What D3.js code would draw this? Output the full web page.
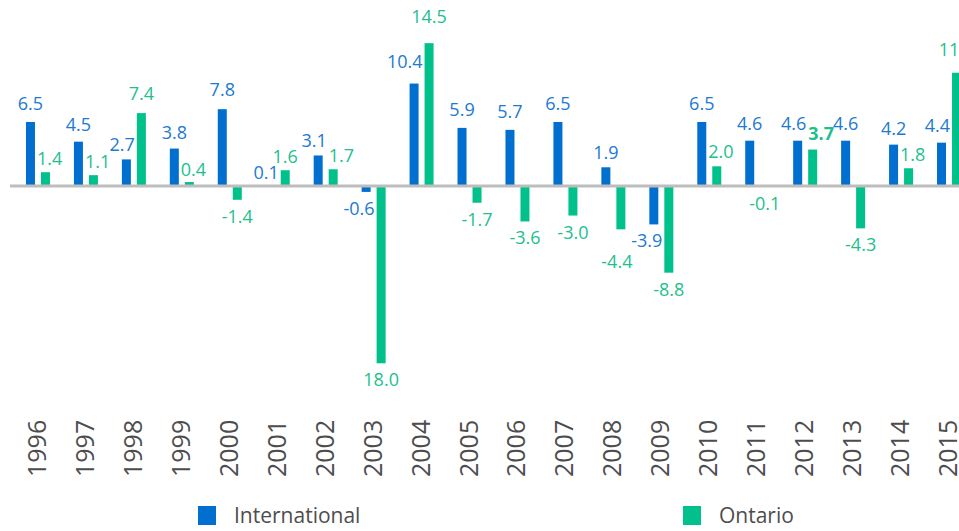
<!DOCTYPE html>
<html>
<head>
<meta charset="utf-8">
<script src="https://cdn.jsdelivr.net/npm/d3@7"></script>
<style>
  body { margin: 0; background: #fff; }
  svg { display: block; font-family: 'Open Sans', sans-serif; }
  .year { fill: #4d4d4d; font-size: 25px; }
  .legend text { fill: #4d4d4d; font-size: 21px; }
</style>
</head>
<body>
<div class="chart"></div>
<script>
'use strict';
var years = ['1996', '1997', '1998', '1999', '2000', '2001', '2002', '2003', '2004', '2005',
  '2006', '2007', '2008', '2009', '2010', '2011', '2012', '2013', '2014', '2015'];
var international = [6.5, 4.5, 2.7, 3.8, 7.8, 0.1, 3.1, -0.6, 10.4, 5.9,
  5.7, 6.5, 1.9, -3.9, 6.5, 4.6, 4.6, 4.6, 4.2, 4.4];
var ontario = [1.4, 1.1, 7.4, 0.4, -1.4, 1.6, 1.7, -18.0, 14.5, -1.7,
  -3.6, -3.0, -4.4, -8.8, 2.0, -0.1, 3.7, -4.3, 1.8, 11.5];
var seriesNames = ['International', 'Ontario'];

var colors = {International: '#006fcf', Ontario: '#00c08b'};
var textColors = {International: '#2279d1', Ontario: '#22bf8e'};

var width = 959, height = 531;

// flatten into one row per bar
var rows = [];
years.forEach(function(yr, i) {
  rows.push({year: yr, key: 'International', value: international[i]});
  rows.push({year: yr, key: 'Ontario', value: ontario[i]});
});
rows.forEach(function(d) {
  d.label = d.value.toFixed(1);
  // the source prints the 2003 Ontario drop without its minus sign
  if (d.key === 'Ontario' && d.year === '2003') d.label = Math.abs(d.value).toFixed(1);
});

var svg = d3.select('.chart').append('svg')
  .attr('width', width)
  .attr('height', height);

var step = 47.95;
var x0 = d3.scaleBand()
  .domain(years)
  .range([14, 14 + step * years.length]);

var x1 = d3.scaleBand()
  .domain(seriesNames)
  .range([x0.bandwidth() / 2 - 12, x0.bandwidth() / 2 + 12])
  .paddingInner(0.4);

var y = d3.scaleLinear()
  .domain([-19, 16])
  .range([186 + 19 * 9.85, 186 - 16 * 9.85]);

// positive labels ride a little higher the taller the bar
var yLabel = d3.scaleLinear()
  .domain([0, 16])
  .range([186, 186 - 16 * 10.8]);

function barX(d) { return x0(d.year) + x1(d.key); }

// bars
var bars = svg.append('g').selectAll('rect')
  .data(rows)
  .enter().append('rect')
  .attr('x', barX)
  .attr('width', x1.bandwidth())
  .attr('y', function(d) { return y(Math.max(0, d.value)); })
  .attr('height', function(d) { return Math.abs(y(d.value) - y(0)); })
  .attr('fill', function(d) { return colors[d.key]; });

// zero line
svg.append('line')
  .attr('x1', 10)
  .attr('x2', width)
  .attr('y1', y(0))
  .attr('y2', y(0))
  .attr('stroke', '#bdbdbd')
  .attr('stroke-width', 3);

// value labels
var labels = svg.append('g').selectAll('text')
  .data(rows)
  .enter().append('text')
  .attr('x', function(d) { return barX(d) + x1.bandwidth() / 2; })
  .attr('y', function(d) {
    return d.value >= 0 ? yLabel(d.value) - 6 : y(d.value) + 23;
  })
  .attr('text-anchor', 'middle')
  .style('font-size', '18px')
  .style('font-weight', function(d) {
    return d.key === 'Ontario' && d.year === '2012' ? 700 : 400;
  })
  .attr('fill', function(d) { return textColors[d.key]; })
  .text(function(d) { return d.label; });

// nudge labels so they clear the neighbouring bar and each other
function overlaps(a, b) {
  return a.x < b.x + b.width && a.x + a.width > b.x &&
    a.y < b.y + b.height && a.y + a.height > b.y;
}
function tightBox(node) {
  var bb = node.getBBox();
  return {x: bb.x, y: bb.y + 4, width: bb.width, height: bb.height - 8};
}
function moveBy(node, dx, dy) {
  var s = d3.select(node);
  s.attr('x', +s.attr('x') + dx).attr('y', +s.attr('y') + dy);
}

var barBox = {};
bars.each(function(d) { barBox[d.year + d.key] = this.getBBox(); });

labels.each(function(d) {
  var other = d.key === 'International' ? 'Ontario' : 'International';
  var box = tightBox(this);
  var nb = barBox[d.year + other];
  if (nb.height > 0 && overlaps(box, nb)) {
    var shift = d.key === 'International' ?
      (nb.x - 2) - (box.x + box.width) :
      (nb.x + nb.width + 2) - box.x;
    moveBy(this, shift, 0);
  }
});

years.forEach(function(yr) {
  var pair = labels.filter(function(d) { return d.year === yr; }).nodes();
  var a = tightBox(pair[0]), b = tightBox(pair[1]);
  if (overlaps(a, b)) {
    var over = (a.x + a.width) - b.x + 2;
    moveBy(pair[0], -over / 2, 0);
    moveBy(pair[1], over / 2, 0);
  }
});

// below the line, a label that still runs into its right-hand neighbour drops down
var nodes = labels.nodes();
for (var i = 0; i < nodes.length - 1; i++) {
  var da = d3.select(nodes[i]).datum(), db = d3.select(nodes[i + 1]).datum();
  if (da.value >= 0 || db.value >= 0) continue;
  var ba = tightBox(nodes[i]), bn = tightBox(nodes[i + 1]);
  if (overlaps(ba, bn)) {
    moveBy(nodes[i], -4, (bn.y + bn.height + 5) - ba.y);
  }
}

// year labels
svg.append('g').selectAll('text')
  .data(years)
  .enter().append('text')
  .attr('class', 'year')
  .attr('transform', function(d) {
    return 'translate(' + (x0(d) + x0.bandwidth() / 2 - 1) + ',477) rotate(-90)';
  })
  .attr('dy', '0.36em')
  .attr('text-anchor', 'start')
  .text(function(d) { return d; });

// legend
var legendX = {International: 198, Ontario: 683};
var legend = svg.append('g').attr('class', 'legend')
  .selectAll('g')
  .data(seriesNames)
  .enter().append('g')
  .attr('transform', function(d) { return 'translate(' + legendX[d] + ',506)'; });

legend.append('rect')
  .attr('width', 18)
  .attr('height', 19)
  .attr('fill', function(d) { return colors[d]; });

legend.append('text')
  .attr('x', 36)
  .attr('y', 17)
  .text(function(d) { return d; });
</script>
</body>
</html>
